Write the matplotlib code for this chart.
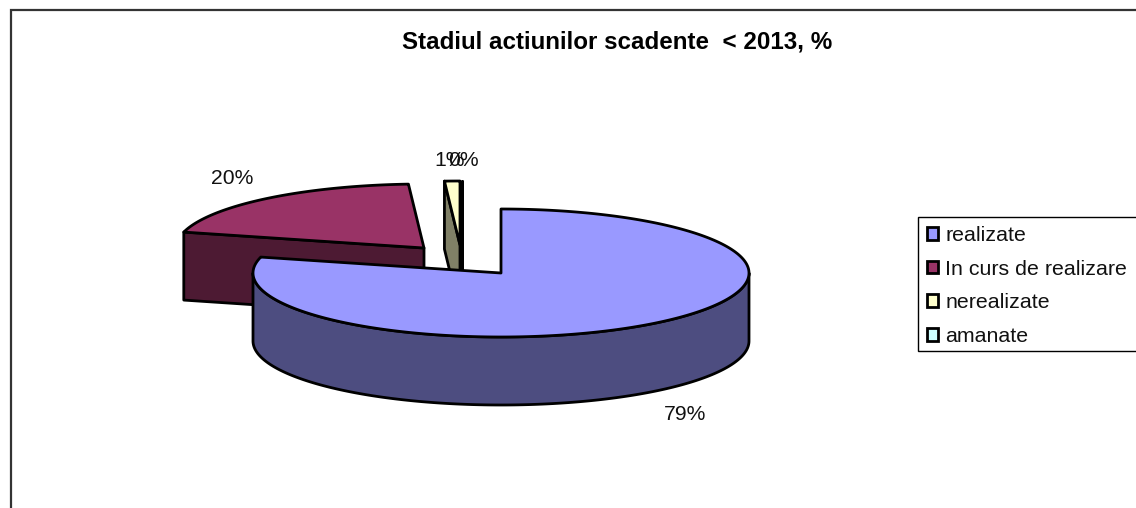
import numpy as np
import matplotlib
matplotlib.use("Agg")
import matplotlib.pyplot as plt
from matplotlib.patches import Polygon, Patch, Rectangle

plt.rcParams['font.family'] = ['Liberation Sans', 'DejaVu Sans']

# ---- data ----
categories = ["realizate", "In curs de realizare", "nerealizate", "amanate"]
values = [79, 20, 1, 0]
title = "Stadiul actiunilor scadente  < 2013, %"

# ---- style / layout (pixel space) ----
top_colors = ["#9999FF", "#993366", "#FFFFCC", "#CCFFFF"]
side_colors = ["#4D4D80", "#4D1A33", "#808066", "#668080"]
CX, CY, RX, RY, DEPTH = 501, 273, 248, 64, 68
offsets = [(0, 0), (-77, -25), (-41, -28), (-39, -28)]
label_pos = [(685, 414), (232, 179), (450, 160), (463, 160)]
LW = 2.0

fig = plt.figure(figsize=(11.36, 5.08), dpi=100, facecolor="white")
ax = fig.add_axes([0, 0, 1, 1])
ax.set_xlim(0, 1136)
ax.set_ylim(508, 0)
ax.axis("off")

# chart frame: only left and top edges fall inside the picture
ax.plot([11, 11, 1136], [508, 10, 10], color="#333333", lw=1.6, zorder=1,
        solid_joinstyle="miter")


def rim(t, ox, oy, dz=0):
    t = np.radians(t)
    return np.column_stack([CX + ox + RX * np.sin(t),
                            CY + oy + dz - RY * np.cos(t)])


fractions = np.array(values, dtype=float) / np.sum(values) * 360
ends = np.cumsum(fractions)
starts = ends - fractions

for i in reversed(range(len(values))):
    a, b = starts[i], ends[i]
    ox, oy = offsets[i]
    z = 10 + (len(values) - i) * 3
    if i == 0:
        z = 40
    tip = np.array([[CX + ox, CY + oy]])
    tip_low = tip + [0, DEPTH]
    # radial face at the clockwise start of the slice
    r0 = rim(a, ox, oy)
    r0_low = rim(a, ox, oy, DEPTH)
    ax.add_patch(Polygon(np.vstack([r0, tip, tip_low, r0_low]), closed=True,
                         fc=side_colors[i], ec="black", lw=LW, zorder=z,
                         joinstyle="round"))
    # outer side, front half only
    lo, hi = max(a, 90), min(b, 270)
    if hi > lo:
        ts = np.linspace(lo, hi, 200)
        ax.add_patch(Polygon(np.vstack([rim(ts, ox, oy),
                                        rim(ts[::-1], ox, oy, DEPTH)]),
                             closed=True, fc=side_colors[i], ec="black",
                             lw=LW, zorder=z + 1, joinstyle="round"))
    # top face
    ts = np.linspace(a, b, 300)
    ax.add_patch(Polygon(np.vstack([tip, rim(ts, ox, oy)]), closed=True,
                         fc=top_colors[i], ec="black", lw=LW, zorder=z + 2,
                         joinstyle="round"))

for v, (x, y) in zip(values, label_pos):
    ax.text(x, y, f"{v}%", ha="center", va="center", fontsize=15.2,
            color="#111111", zorder=60)

ax.text(617, 42.5, title, ha="center", va="center", fontsize=17.4,
        fontweight="bold", color="black", zorder=60)

# legend box runs past the right edge of the picture, as in the source
ax.add_patch(Rectangle((918, 217), 240, 134, fc="white", ec="black", lw=1.0,
                       zorder=65))
handles = [Patch(fc=c, ec="black", lw=LW) for c in top_colors]
leg = ax.legend(handles, categories, loc="upper left",
                bbox_to_anchor=(918 / 1136, 1 - 217 / 508),
                bbox_transform=fig.transFigure, borderaxespad=0,
                fontsize=15.4, frameon=False,
                handlelength=0.52, handleheight=0.52,
                handletextpad=0.33, labelspacing=0.685, borderpad=0.42,
                labelcolor="#111111")
leg.set_zorder(70)

fig.savefig("out.png", dpi=100, facecolor="white")
